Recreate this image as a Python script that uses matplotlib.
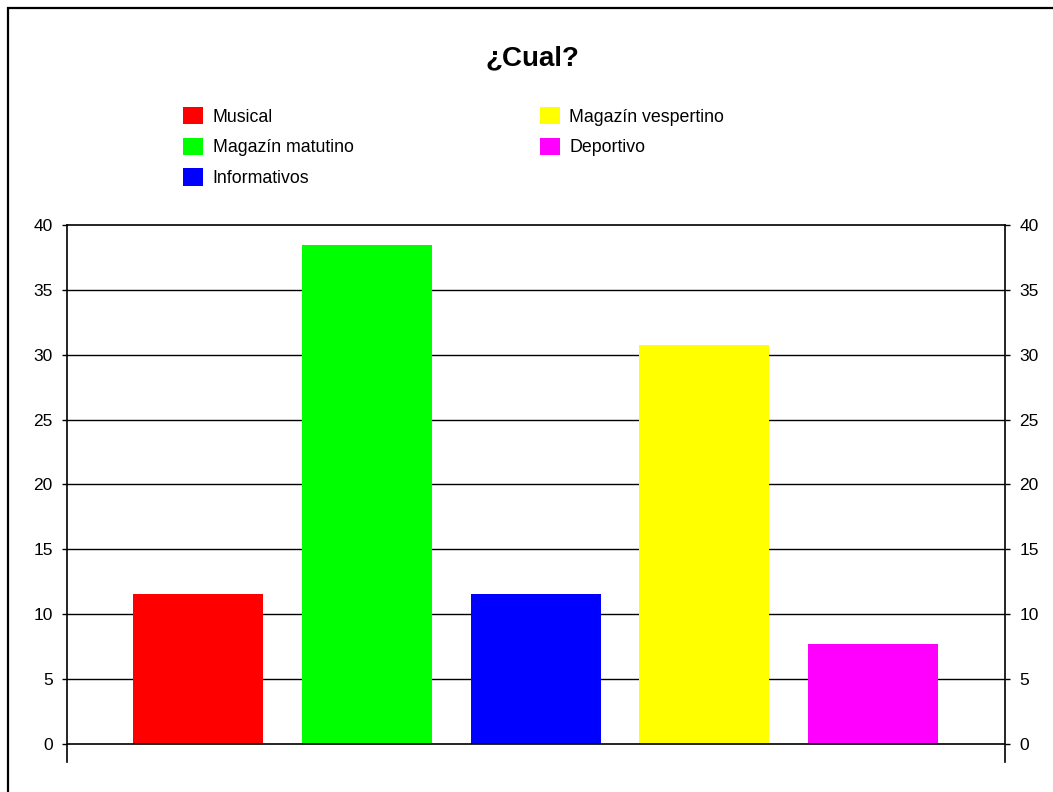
import matplotlib
matplotlib.use('Agg')
import matplotlib.pyplot as plt
from matplotlib.patches import Rectangle

plt.rcParams['font.family'] = ['Liberation Sans', 'DejaVu Sans']

categorias = ['Musical', 'Magazín matutino', 'Informativos', 'Magazín vespertino', 'Deportivo']
valores = [11.54, 38.46, 11.54, 30.77, 7.69]
colores = ['#ff0000', '#00ff00', '#0000ff', '#ffff00', '#ff00ff']
ticks_y = [0, 5, 10, 15, 20, 25, 30, 35, 40]

fig = plt.figure(figsize=(10.53, 7.92), dpi=100)
# area del grafico en pixeles: x 67..1005, y 225..762
ax = fig.add_axes([67/1053, 1 - 762/792, (1005-67)/1053, (762-225)/792])

for i, (cat, v, c) in enumerate(zip(categorias, valores, colores)):
    ax.bar(i, v, width=0.77, color=c, label=cat, zorder=3)

ax.set_xlim(-0.775, 4.78)
ax.set_ylim(-1.39, 40)
for y in ticks_y[1:-1]:
    ax.axhline(y, color='black', linewidth=1, zorder=1)
ax.axhline(0, color='black', linewidth=1.2, zorder=4)

ax.spines['bottom'].set_visible(False)
for s in ['left', 'right', 'top']:
    ax.spines[s].set_linewidth(1.2)
    ax.spines[s].set_color('black')

ax.set_yticks(ticks_y)
ax.set_xticks([])
ax.tick_params(axis='y', which='both', direction='out', length=3.8, width=1,
               labelsize=12.5, left=True, right=True, labelleft=True, labelright=True, pad=6.5)

fig.text(532/1053, 1 - 58/792, '¿Cual?', ha='center', va='center',
         fontsize=20, fontweight='bold')

leg = fig.legend(loc='upper left', bbox_to_anchor=(183/1053, 1 - 107/792), ncol=2,
                 frameon=False, fontsize=12.75, handlelength=1.13, handleheight=1.13,
                 handletextpad=0.55, labelspacing=0.68, columnspacing=10.5,
                 borderpad=0, borderaxespad=0)

# marco de la figura
fig.patches.append(Rectangle((8/1053, -0.1), 1.2, 1.1 - 8/792,
                             transform=fig.transFigure, fill=False,
                             edgecolor='black', linewidth=1.6))

fig.savefig('out.png', dpi=100)
